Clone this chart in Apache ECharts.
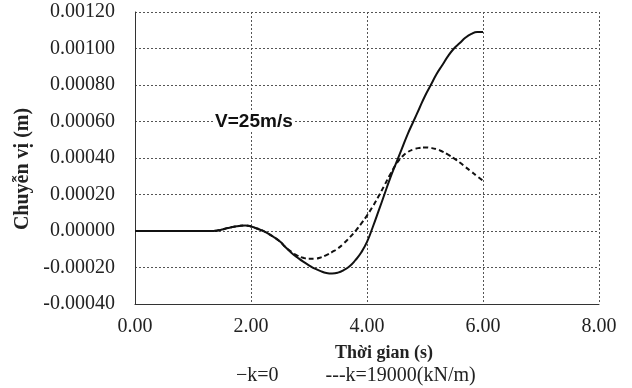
<!DOCTYPE html>
<html>
<head>
<meta charset="utf-8">
<script src="https://cdn.jsdelivr.net/npm/echarts@6/dist/echarts.min.js"></script>
<style>html,body{margin:0;padding:0;background:#fff}#c{width:632px;height:388px}</style>
</head>
<body>
<div id="c"></div>
<script>
// time (s)
var times = [0.0,0.1,0.2,0.3,0.4,0.5,0.6,0.7,0.8,0.9,1.0,1.1,1.2,1.3,1.4,1.5,1.6,1.7,1.8,1.9,
  2.0,2.1,2.2,2.3,2.4,2.5,2.6,2.7,2.8,2.9,3.0,3.1,3.2,3.3,3.4,3.5,3.6,3.7,3.8,3.9,
  4.0,4.1,4.2,4.3,4.4,4.5,4.6,4.7,4.8,4.9,5.0,5.1,5.2,5.3,5.4,5.5,5.6,5.7,5.8,5.9,6.0];
// displacement (m), k = 0
var dispK0 = [0,0,0,0,0,0,0,0,0,0,0,0,0,0,0.000002,0.000008,0.000016,0.000023,0.000028,0.00003,
  0.000025,0.000014,0.000002,-0.000015,-0.000035,-0.000058,-0.00009,-0.00012,-0.000145,-0.000168,
  -0.000188,-0.000206,-0.00022,-0.00023,-0.000233,-0.000228,-0.000214,-0.000193,-0.00016,-0.000118,
  -0.00006,0.000022,0.00011,0.0002,0.00029,0.00037,0.00045,0.00053,0.0006,0.00067,
  0.00074,0.0008,0.00086,0.00091,0.00096,0.001,0.00103,0.00106,0.00108,0.00109,0.00109];
// displacement (m), k = 19000 kN/m
var dispK19000 = [0,0,0,0,0,0,0,0,0,0,0,0,0,0,0.000002,0.000008,0.000016,0.000023,0.000028,0.00003,
  0.000025,0.000014,0.000002,-0.000015,-0.000035,-0.000058,-0.00009,-0.000115,-0.000135,-0.000147,
  -0.000152,-0.000152,-0.000145,-0.000132,-0.000115,-0.000095,-0.000068,-0.000036,0.0,0.00004,
  0.000085,0.000135,0.00019,0.00025,0.00031,0.000365,0.000405,0.000432,0.000447,0.000455,
  0.000458,0.000455,0.000448,0.000435,0.000418,0.000398,0.000375,0.00035,0.000325,0.0003,0.000275];
var seriesNames = ['k=0', 'k=19000(kN/m)'];
var legendPrefix = {'k=0': '\u2212k=0', 'k=19000(kN/m)': '---k=19000(kN/m)'};
var xTitle = 'Thời gian (s)';
var yTitle = 'Chuyễn vị (m)';
var note = 'V=25m/s';

function pairs(xs, ys) { return xs.map(function (x, i) { return [x, ys[i]]; }); }

var chart = echarts.init(document.getElementById('c'), null, {renderer: 'canvas'});
var serif = '"Liberation Serif", "Times New Roman", serif';
var gridLine = {show: true, lineStyle: {color: '#555', type: [2, 2], width: 1}};
chart.setOption({
  animation: false,
  backgroundColor: '#fff',
  grid: {left: 135, right: 33, top: 12, bottom: 84, containLabel: false},
  xAxis: {
    type: 'value', min: 0, max: 8, interval: 2,
    name: xTitle, nameLocation: 'middle', nameGap: 40,
    nameTextStyle: {fontFamily: serif, fontWeight: 'bold', fontSize: 18, color: '#222', padding: [0, 0, 0, 34]},
    axisLine: {onZero: false, lineStyle: {color: '#333', width: 1}},
    axisTick: {show: false},
    axisLabel: {fontFamily: serif, fontSize: 20, color: '#222', margin: 13,
      formatter: function (v) { return v.toFixed(2); }},
    splitLine: gridLine
  },
  yAxis: {
    type: 'value', min: -0.0004, max: 0.0012, interval: 0.0002,
    name: yTitle, nameLocation: 'middle', nameGap: 98,
    nameTextStyle: {fontFamily: serif, fontWeight: 'bold', fontSize: 20, color: '#222', padding: [0, 22, 0, 0]},
    axisLine: {show: true, lineStyle: {color: '#333', width: 1}},
    axisTick: {show: false},
    axisLabel: {fontFamily: serif, fontSize: 20, color: '#222', margin: 20,
      formatter: function (v) { return v.toFixed(5); }},
    splitLine: gridLine
  },
  legend: {
    data: seriesNames,
    bottom: -3, left: 226,
    icon: 'none', itemWidth: 0, itemHeight: 0, itemGap: 42,
    textStyle: {fontFamily: serif, fontSize: 20, color: '#222'},
    formatter: function (n) { return legendPrefix[n]; }
  },
  series: [
    {name: seriesNames[0], type: 'line', data: pairs(times, dispK0), smooth: true, showSymbol: false,
      lineStyle: {color: '#111', width: 2, type: 'solid'}, itemStyle: {color: '#111'}, z: 3,
      markPoint: {symbol: 'rect', symbolSize: 0, silent: true,
        data: [{coord: [2.05, 0.0006], label: {show: true, formatter: note, fontFamily: 'Liberation Sans, Arial, sans-serif', fontWeight: 'bold', fontSize: 19, color: '#111', backgroundColor: '#fff', padding: [1, 2]}}]}},
    {name: seriesNames[1], type: 'line', data: pairs(times, dispK19000), smooth: true, showSymbol: false,
      lineStyle: {color: '#111', width: 2, type: [5, 3]}, itemStyle: {color: '#111'}, z: 2}
  ]
});
</script>
</body>
</html>
